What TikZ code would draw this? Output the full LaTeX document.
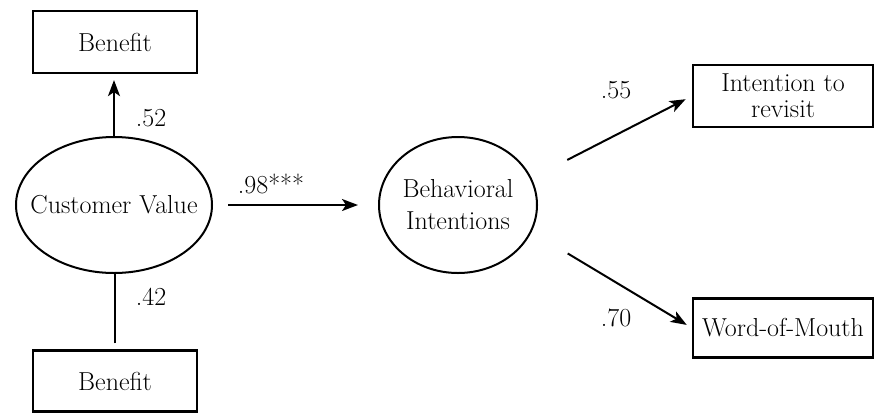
\documentclass[tikz,border=0pt]{standalone}
\usetikzlibrary{shapes.geometric,arrows.meta}

\begin{document}
\begin{tikzpicture}[x=1pt,y=-1pt,
        txt/.style={font=\fontsize{26}{32}\selectfont},
        box/.style={txt, draw, line width=2.2pt, minimum width=164pt, minimum height=62pt, inner sep=0pt, align=center},
        latent/.style={txt, draw, ellipse, line width=2pt, inner sep=0pt, align=center},
        path/.style={line width=2pt, -{Stealth[length=16pt,width=12pt,inset=4pt]}},
        coef/.style={txt},
      ]
      \useasboundingbox (0,0) rectangle (875,413);

      % Indicators of customer value
      \node[box] (ben1) at (115,42) {Benefit};
      \node[box, minimum height=61pt] (ben2) at (115,381) {Benefit};

      % Latent variables
      \node[latent, inner xsep=-15pt, minimum width=196pt, minimum height=136pt] (cv) at (114,205) {Customer Value};
      \node[latent, minimum width=158pt, minimum height=136pt] (bi) at (458,205) {Behavioral\\Intentions};

      % Outcomes
      \node[box, minimum width=180pt, font=\fontsize{26}{26}\selectfont] (rev) at (783,96) {Intention to\\revisit};
      \node[box, minimum width=180pt, minimum height=59pt] (wom) at (783,328) {Word-of-Mouth};

      % Paths
      \draw[path, shorten >=6pt] (cv.north) -- (cv.north |- ben1.south);
      \draw[line width=2pt, shorten <=6pt] (ben2.north) -- (ben2.north |- cv.south);
      \draw[path, shorten <=15pt, shorten >=20pt] (cv.east) -- (bi.west);
      \draw[path, shorten <=40pt, shorten >=7pt] (bi.20) -- (rev.west);
      \draw[path, shorten <=42pt, shorten >=6pt] (bi.-20) -- (wom.west);

      % Coefficients
      \node[coef] (c52) at (151,118) {.52};
      \node[coef] (c42) at (151,297) {.42};
      \node[coef] (c98) at (271,184) {.98***};
      \node[coef] (c55) at (616,90) {.55};
      \node[coef] (c70) at (616,318) {.70};
    \end{tikzpicture}
\end{document}
